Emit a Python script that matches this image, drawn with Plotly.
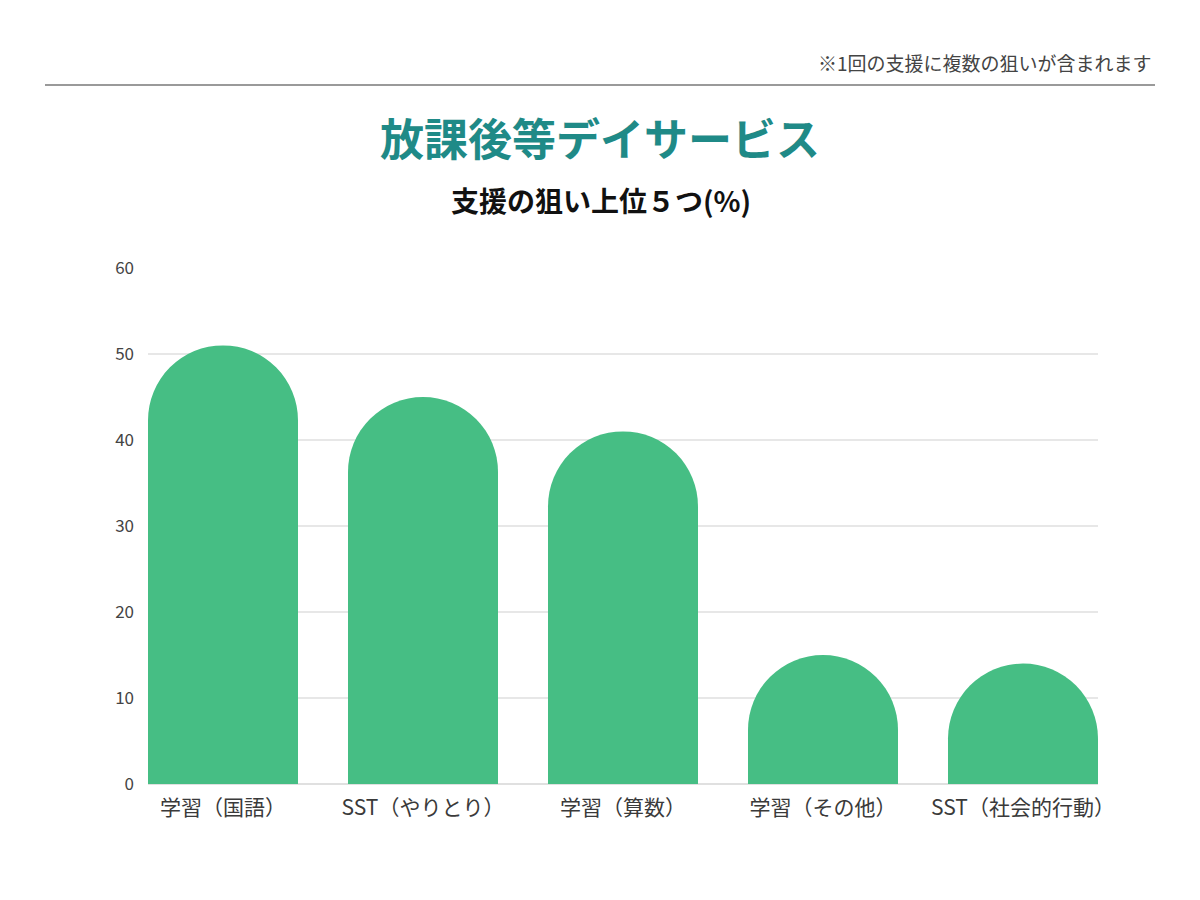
import plotly.graph_objects as go

categories = ["学習（国語）", "SST（やりとり）", "学習（算数）", "学習（その他）", "SST（社会的行動）"]
values = [51, 45, 41, 15, 14]
y_ticks = [0, 10, 20, 30, 40, 50, 60]

FONT = "Noto Sans CJK JP"

# page is drawn with an 8px offset; keep the plot area at screen x 148..1098, y 268..784
W, H = 1192, 892
L, R, T, B = 140, 102, 260, 116
PW, PH = W - L - R, H - T - B


def px(xs):
    return (xs - 8 - L) / PW


def py(ys):
    return (H - B - (ys - 8)) / PH


fig = go.Figure(go.Bar(
    x=categories, y=values,
    marker=dict(color="#46BE84", cornerradius="50%", line=dict(width=0)),
    width=0.75,
))

fig.update_layout(
    width=W, height=H,
    margin=dict(l=L, r=R, t=T, b=B, autoexpand=False),
    paper_bgcolor="white", plot_bgcolor="white",
    font=dict(family=FONT, color="#333333"),
    showlegend=False,
    xaxis=dict(range=[-0.375, 4.375], showgrid=False, showline=False, zeroline=False,
               ticks="", ticklabelstandoff=9, tickfont=dict(size=21, color="#3A3A3A")),
    yaxis=dict(range=[0, 60], tickvals=y_ticks, showgrid=True, gridcolor="#E7E7E7",
               gridwidth=1.5, zeroline=True, zerolinecolor="#E0E0E0", zerolinewidth=1.5,
               showline=False, ticks="", ticklabelstandoff=13,
               tickfont=dict(size=17, color="#444444")),
    shapes=[dict(type="line", xref="paper", yref="paper",
                 x0=px(45), x1=px(1155), y0=py(85), y1=py(85),
                 line=dict(color="#9A9A9A", width=2))],
    annotations=[
        dict(text="放課後等デイサービス", xref="paper", yref="paper",
             x=px(600), y=py(137), xanchor="center", yanchor="middle",
             showarrow=False, font=dict(family=FONT, size=44, color="#1F8A87", weight="bold")),
        dict(text="支援の狙い上位５つ(%)", xref="paper", yref="paper",
             x=px(601), y=py(200), xanchor="center", yanchor="middle",
             showarrow=False, font=dict(family=FONT, size=28, color="#111111", weight="bold")),
        dict(text="※1回の支援に複数の狙いが含まれます", xref="paper", yref="paper",
             x=px(1154), y=py(63), xanchor="right", yanchor="middle",
             showarrow=False, font=dict(family=FONT, size=19, color="#444444")),
    ],
)

fig.write_html("out.html")
